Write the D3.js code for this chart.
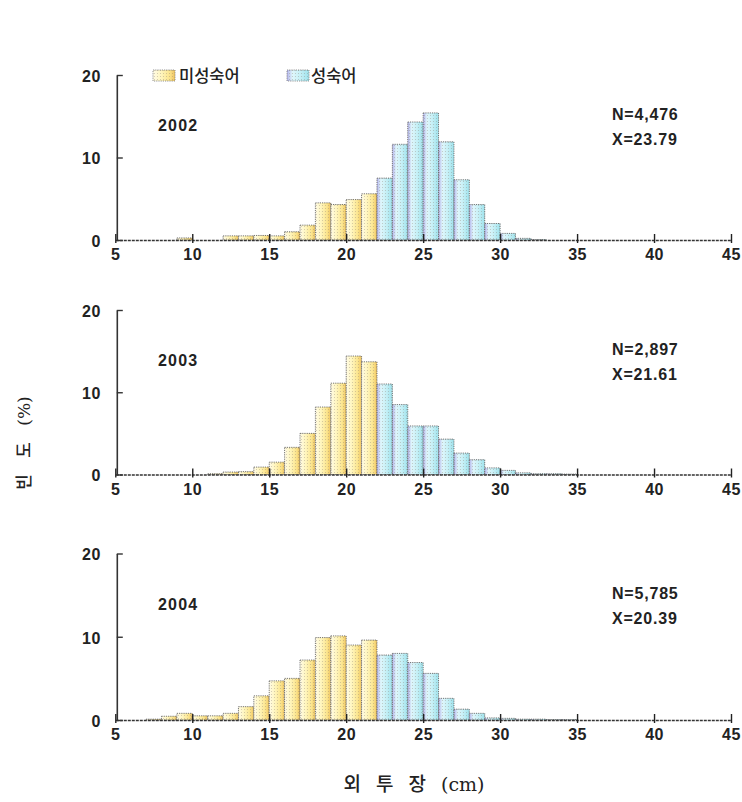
<!DOCTYPE html>
<html><head><meta charset="utf-8">
<script src="https://cdn.jsdelivr.net/npm/d3@7"></script>
<style>
html,body{margin:0;padding:0;background:#fff;}
svg{display:block;}
</style></head>
<body>
<script>
// ---- data ----
const bins = [7,8,9,10,11,12,13,14,15,16,17,18,19,20,21,22,23,24,25,26,27,28,29,30,31,32,33,34];
const freq2002 = [0,0,0.25,0,0,0.5,0.5,0.55,0.5,1.0,1.8,4.5,4.3,4.9,5.6,7.5,11.6,14.3,15.4,11.9,7.3,4.3,2.0,0.8,0.2,0.05,0,0];
const freq2003 = [0,0,0,0,0.1,0.3,0.35,0.9,1.5,3.3,5.0,8.2,11.1,14.4,13.7,11.0,8.5,5.9,5.9,4.3,2.6,1.8,0.8,0.5,0.2,0.1,0.1,0.05];
const freq2004 = [0.1,0.45,0.8,0.5,0.5,0.8,1.6,2.9,4.7,5.0,7.2,9.9,10.1,9.0,9.6,7.8,8.0,6.9,5.6,2.6,1.3,0.8,0.25,0.2,0.1,0.1,0.05,0.05];
const years = ["2002","2003","2004"];
const nLabels = ["N=4,476","N=2,897","N=5,785"];
const meanLabels = ["X=23.79","X=21.61","X=20.39"];
const matureFrom = [22,22,22];
const xTicks = [5,10,15,20,25,30,35,40,45];
const yTicks = [0,10,20];
const legendLabels = ["미성숙어","성숙어"];
const xTitle = "외 투 장 (cm)";
const yTitle = "빈 도 (%)";
const series = [freq2002, freq2003, freq2004];

// ---- layout ----
const W = 742, H = 802;
const svg = d3.select("body").append("svg").attr("width", W).attr("height", H);
const defs = svg.append("defs");

const gy = defs.append("linearGradient").attr("id","gY").attr("x1","0").attr("x2","1").attr("y1","0").attr("y2","0");
[["0%","#fffbe6"],["35%","#fff6c0"],["75%","#fbe58e"],["100%","#f0c460"]].forEach(s=>gy.append("stop").attr("offset",s[0]).attr("stop-color",s[1]));
const gb = defs.append("linearGradient").attr("id","gB").attr("x1","0").attr("x2","1").attr("y1","0").attr("y2","0");
[["0%","#b4b4ec"],["25%","#dff6fb"],["60%","#c6f0f6"],["100%","#9ee2ec"]].forEach(s=>gb.append("stop").attr("offset",s[0]).attr("stop-color",s[1]));

const pat = defs.append("pattern").attr("id","dots").attr("width",3).attr("height",3).attr("patternUnits","userSpaceOnUse");
pat.append("rect").attr("x",1).attr("y",1).attr("width",1).attr("height",1).attr("fill","#8a7a70").attr("opacity",0.35);

const x = d3.scaleLinear().domain([5,45]).range([115.3,731]);
const panels = [{top:75,bottom:240},{top:310,bottom:474.5},{top:553.5,bottom:720}];
const numFont = "'Liberation Sans', Arial, sans-serif";
const korFont = "'Noto Sans CJK KR', sans-serif";

panels.forEach((p, i) => {
  const y = d3.scaleLinear().domain([0,20]).range([p.bottom, p.top]);
  const g = svg.append("g");
  const data = bins.map((b, j) => ({b, v: series[i][j]})).filter(d => d.v > 0);

  const bars = g.selectAll("g.bar").data(data).join("g").attr("class","bar");
  bars.append("rect")
    .attr("x", d => x(d.b)).attr("width", d => x(d.b+1) - x(d.b))
    .attr("y", d => y(d.v)).attr("height", d => y(0) - y(d.v))
    .attr("fill", d => d.b < matureFrom[i] ? "url(#gY)" : "url(#gB)");
  bars.append("rect")
    .attr("x", d => x(d.b)).attr("width", d => x(d.b+1) - x(d.b))
    .attr("y", d => y(d.v)).attr("height", d => y(0) - y(d.v))
    .attr("fill", "url(#dots)")
    .attr("stroke", "#666").attr("stroke-width", 0.9).attr("stroke-dasharray","1.2,1");

  // x axis
  const xa = g.append("g").attr("transform", `translate(0,${p.bottom})`)
    .call(d3.axisBottom(x).tickValues(xTicks).tickSizeInner(-6).tickSizeOuter(0).tickPadding(9));
  xa.select(".domain").attr("stroke","#333").attr("stroke-width",1.6).attr("stroke-dasharray","3,1");
  xa.selectAll(".tick line").attr("stroke","#222").attr("stroke-width",1.4).attr("y1",3);
  xa.selectAll("text").attr("font-family",numFont).attr("font-size",16).attr("font-weight","bold")
    .attr("letter-spacing",0.5).attr("fill","#222");

  // y axis
  const ya = g.append("g").attr("transform", `translate(${x(5)+1.5},0)`)
    .call(d3.axisLeft(y).tickValues(yTicks).tickSizeInner(-6).tickSizeOuter(0).tickPadding(16));
  ya.select(".domain").attr("stroke","#333").attr("stroke-width",1.6);
  ya.selectAll(".tick line").attr("stroke","#333").attr("stroke-width",1.4);
  ya.selectAll("text").attr("font-family",numFont).attr("font-size",16).attr("font-weight","bold")
    .attr("letter-spacing",0.5).attr("fill","#222").attr("dy","0.4em");

  g.append("text").attr("x",158).attr("y",p.top+56).text(years[i])
    .attr("font-family",numFont).attr("font-size",16).attr("font-weight","bold").attr("letter-spacing",1.2).attr("fill","#222");
  g.append("text").attr("x",612).attr("y",p.top+45).text(nLabels[i])
    .attr("font-family",numFont).attr("font-size",16).attr("font-weight","bold").attr("letter-spacing",0.8).attr("fill","#222");
  g.append("text").attr("x",612).attr("y",p.top+70).text(meanLabels[i])
    .attr("font-family",numFont).attr("font-size",16).attr("font-weight","bold").attr("letter-spacing",0.8).attr("fill","#222");
});

// legend
const lg = svg.append("g");
[["url(#gY)",153,legendLabels[0],179],["url(#gB)",287,legendLabels[1],311]].forEach(l => {
  lg.append("rect").attr("x",l[1]).attr("y",70).attr("width",22).attr("height",11).attr("fill",l[0]);
  lg.append("rect").attr("x",l[1]).attr("y",70).attr("width",22).attr("height",11).attr("fill","url(#dots)")
    .attr("stroke","#777").attr("stroke-width",0.8).attr("stroke-dasharray","1.2,1");
  lg.append("text").attr("x",l[3]).attr("y",82).text(l[2])
    .attr("font-family",korFont).attr("font-size",16.5).attr("font-weight",500).attr("fill","#222");
});

// axis titles
svg.append("text").attr("x",414).attr("y",791).attr("text-anchor","middle").text(xTitle)
  .attr("font-family","'DejaVu Serif', 'Noto Sans CJK KR', serif").attr("font-size",19).attr("font-weight",500)
  .attr("word-spacing",9).attr("fill","#222");
svg.append("text").attr("transform","translate(30,443) rotate(-90)").attr("text-anchor","middle").text(yTitle)
  .attr("font-family","'DejaVu Serif', 'Noto Sans CJK KR', serif").attr("font-size",17).attr("font-weight",500)
  .attr("word-spacing",11).attr("fill","#222");
</script>
</body></html>
